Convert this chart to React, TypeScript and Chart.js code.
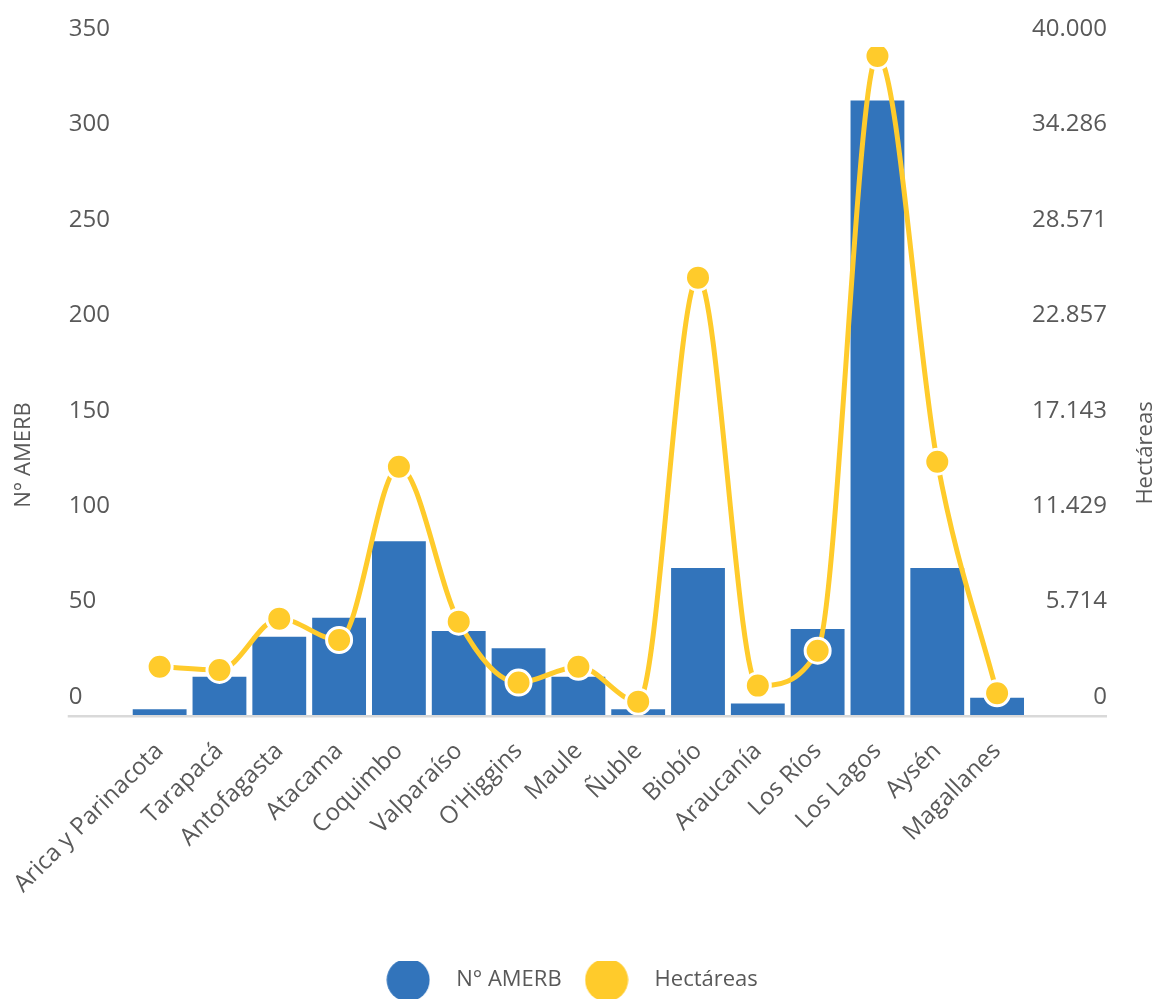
import React, { useEffect, useRef } from "react";
import { Chart, registerables } from "chart.js";

Chart.register(...registerables);

const REGIONS = [
  "Arica y Parinacota",
  "Tarapacá",
  "Antofagasta",
  "Atacama",
  "Coquimbo",
  "Valparaíso",
  "O'Higgins",
  "Maule",
  "Ñuble",
  "Biobío",
  "Araucanía",
  "Los Ríos",
  "Los Lagos",
  "Aysén",
  "Magallanes",
];

const AMERB_COUNT = [3, 20, 41, 51, 91, 44, 35, 20, 3, 77, 6, 45, 322, 77, 9];

const HECTAREAS = [
  2890, 2700, 5770, 4490, 14870, 5590, 1940, 2890, 800, 26190, 1760, 3850, 39460, 15170, 1300,
];

const SERIES_NAMES = ["N° AMERB", "Hectáreas"];
const LEFT_TITLE = "N° AMERB";
const RIGHT_TITLE = "Hectáreas";

const LEFT_MAX = 350;
const RIGHT_MAX = 40000;
const TICK_COUNT = 8;

const BLUE = "#3274BB";
const YELLOW = "#FFCB2B";
const TEXT = "#595959";
const FONT = "'Open Sans', 'Noto Sans', sans-serif";

function fmtThousands(v: number): string {
  const n = Math.round(v);
  return String(n).replace(/\B(?=(\d{3})+(?!\d))/g, ".");
}

function makeDot(color: string): HTMLCanvasElement {
  const c = document.createElement("canvas");
  c.width = 44;
  c.height = 44;
  const g = c.getContext("2d")!;
  g.fillStyle = color;
  g.beginPath();
  g.arc(22, 22, 21.5, 0, Math.PI * 2);
  g.fill();
  return c;
}

export default function App() {
  const ref = useRef<HTMLCanvasElement | null>(null);

  useEffect(() => {
    if (!ref.current) return;
    const dots = [makeDot(BLUE), makeDot(YELLOW)];

    const decor = {
      id: "decor",
      afterLayout(chart: any) {
        const lg = chart.legend;
        if (lg) {
          lg.left -= 23;
          lg.right -= 23;
          lg.top += 2;
          lg.bottom += 2;
        }
      },
      beforeDatasetsDraw(chart: any) {
        const { ctx, chartArea, scales } = chart;
        ctx.save();
        ctx.strokeStyle = "#d9d9d9";
        ctx.lineWidth = 2.5;
        ctx.beginPath();
        ctx.moveTo(scales.y.left - 1, chartArea.bottom + 1.25);
        ctx.lineTo(scales.y1.right, chartArea.bottom + 1.25);
        ctx.stroke();
        ctx.restore();
      },
      afterDraw(chart: any) {
        const { ctx } = chart;
        ctx.save();
        ctx.fillStyle = TEXT;
        ctx.font = `22px ${FONT}`;
        ctx.textAlign = "center";
        ctx.textBaseline = "middle";
        ctx.save();
        ctx.translate(24, 455);
        ctx.rotate(-Math.PI / 2);
        ctx.fillText(LEFT_TITLE, 0, 0);
        ctx.restore();
        ctx.save();
        ctx.translate(1146, 453);
        ctx.rotate(-Math.PI / 2);
        ctx.fillText(RIGHT_TITLE, 0, 0);
        ctx.restore();
        ctx.restore();
      },
    };

    const chart = new Chart(ref.current, {
      type: "bar",
      data: {
        labels: REGIONS,
        datasets: [
          {
            type: "bar",
            label: SERIES_NAMES[0],
            data: AMERB_COUNT,
            backgroundColor: BLUE,
            yAxisID: "y",
            barPercentage: 0.9,
            categoryPercentage: 1.0,
            order: 2,
          },
          {
            type: "line",
            label: SERIES_NAMES[1],
            data: HECTAREAS,
            borderColor: YELLOW,
            backgroundColor: YELLOW,
            borderWidth: 5,
            pointRadius: 12.5,
            pointBorderWidth: 3,
            pointBorderColor: "#ffffff",
            pointBackgroundColor: YELLOW,
            cubicInterpolationMode: "monotone",
            yAxisID: "y1",
            order: 1,
          },
        ],
      } as any,
      options: {
        animation: false,
        responsive: false,
        maintainAspectRatio: false,
        layout: { padding: { left: 68, right: 50, top: 47, bottom: 0 } },
        plugins: {
          tooltip: { enabled: false },
          legend: {
            position: "bottom",
            labels: {
              usePointStyle: true,
              pointStyleWidth: 74,
              padding: 8,
              color: TEXT,
              font: { family: FONT, size: 22 },
              generateLabels: () =>
                SERIES_NAMES.map((name, i) => ({
                  text: name,
                  datasetIndex: i,
                  hidden: false,
                  fillStyle: i === 0 ? BLUE : YELLOW,
                  strokeStyle: "transparent",
                  lineWidth: 0,
                  pointStyle: dots[i],
                  fontColor: TEXT,
                })),
            },
          },
        },
        scales: {
          x: {
            grid: { display: false },
            border: { display: false },
            offset: true,
            ticks: {
              autoSkip: false,
              minRotation: 45,
              maxRotation: 45,
              padding: 14,
              color: TEXT,
              font: { family: FONT, size: 24 },
            },
            afterFit(scale: any) {
              scale.height = 244;
            },
          },
          y: {
            position: "left",
            min: 0,
            max: LEFT_MAX,
            grid: { display: false },
            border: { display: false },
            ticks: {
              count: TICK_COUNT,
              crossAlign: "far",
              labelOffset: -18,
              color: TEXT,
              font: { family: FONT, size: 24 },
              callback: (v: any) => fmtThousands(Number(v)),
            },
            afterFit(scale: any) {
              scale.width = 61;
            },
          },
          y1: {
            position: "right",
            min: 0,
            max: RIGHT_MAX,
            grid: { display: false },
            border: { display: false },
            ticks: {
              count: TICK_COUNT,
              crossAlign: "far",
              labelOffset: -18,
              color: TEXT,
              font: { family: FONT, size: 24 },
              callback: (v: any) => fmtThousands(Number(v)),
            },
            afterFit(scale: any) {
              scale.width = 80;
            },
          },
        },
      } as any,
      plugins: [decor],
    });

    return () => chart.destroy();
  }, []);

  return (
    <div style={{ position: "absolute", left: 0, top: 0, width: 1157, height: 999 }}>
      <canvas ref={ref} width={1157} height={999} style={{ display: "block" }} />
    </div>
  );
}
